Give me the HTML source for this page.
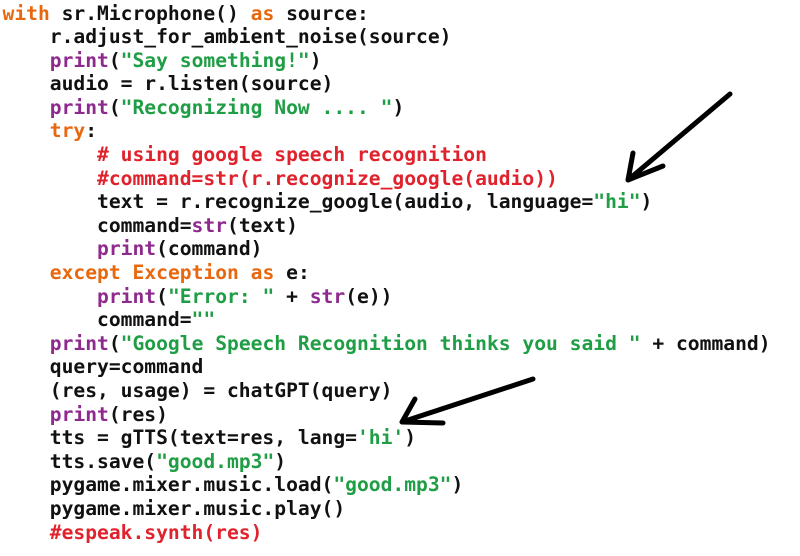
<!DOCTYPE html>
<html><head><meta charset="utf-8"><style>
html,body{margin:0;padding:0;background:#fff;width:800px;height:556px;overflow:hidden}
pre{margin:0;position:absolute;left:2.5px;top:1.5px;font-family:"DejaVu Sans Mono","Liberation Mono",monospace;font-weight:bold;font-size:19.64px;line-height:23.6px;color:#111}
.k{color:#e8680f}.p{color:#8e2a8e}.s{color:#1f9e45}.c{color:#e0222c}
svg{position:absolute;left:0;top:0}
</style></head><body>
<pre><span class="k">with</span> sr.Microphone() <span class="k">as</span> source:
    r.adjust_for_ambient_noise(source)
    <span class="p">print</span>(<span class="s">"Say something!"</span>)
    audio = r.listen(source)
    <span class="p">print</span>(<span class="s">"Recognizing Now .... "</span>)
    <span class="k">try</span>:
        <span class="c"># using google speech recognition</span>
        <span class="c">#command=str(r.recognize_google(audio))</span>
        text = r.recognize_google(audio, language=<span class="s">"hi"</span>)
        command=<span class="p">str</span>(text)
        <span class="p">print</span>(command)
    <span class="k">except</span> <span class="k">Exception</span> <span class="k">as</span> e:
        <span class="p">print</span>(<span class="s">"Error: "</span> + <span class="p">str</span>(e))
        command=<span class="s">""</span>
    <span class="p">print</span>(<span class="s">"Google Speech Recognition thinks you said "</span> + command)
    query=command
    (res, usage) = chatGPT(query)
    <span class="p">print</span>(res)
    tts = gTTS(text=res, lang=<span class="s">'hi'</span>)
    tts.save(<span class="s">"good.mp3"</span>)
    pygame.mixer.music.load(<span class="s">"good.mp3"</span>)
    pygame.mixer.music.play()
    <span class="c">#espeak.synth(res)</span></pre>
<svg width="800" height="556" viewBox="0 0 800 556">
<g stroke="#000" stroke-width="5" stroke-linecap="round" fill="none" stroke-linejoin="round">
<path d="M730 94 L628 180 M633 153 L628 180 L663 166"/>
<path d="M533 379 L402 422 M415 399 L402 422 L443 423"/>
</g></svg>
</body></html>
